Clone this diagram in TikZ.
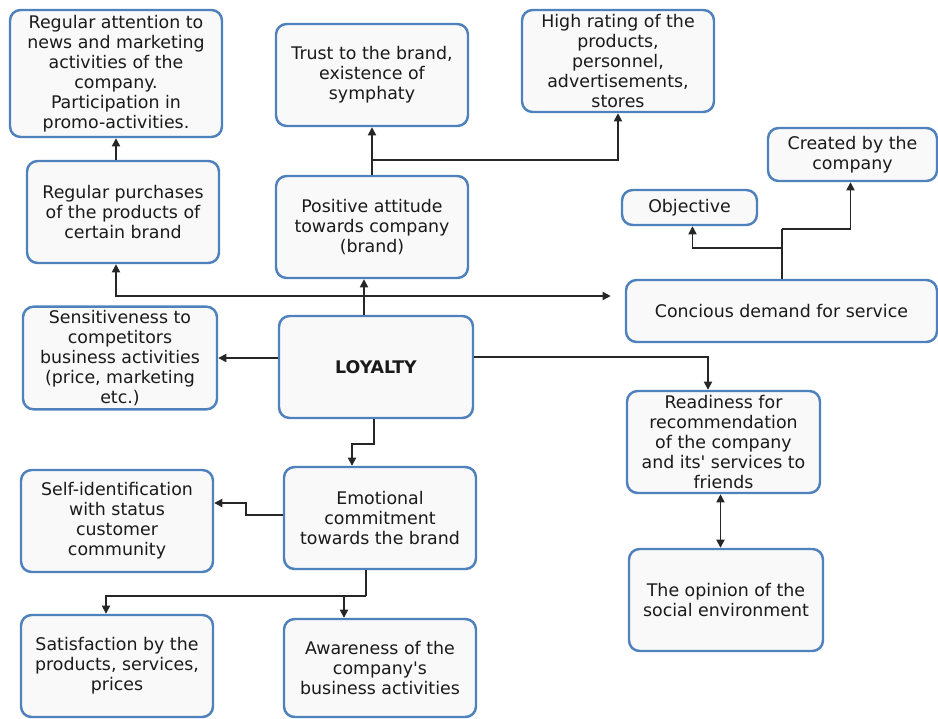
\documentclass[tikz,border=0pt]{standalone}
\usepackage{fontspec}
\setmainfont{DejaVu Sans}
\usetikzlibrary{arrows.meta,calc}

\begin{document}
\begin{tikzpicture}[x=0.02cm,y=-0.02cm,>={Triangle[length=4.6pt,width=4.6pt]},
  box/.style={draw=lo_blue,line width=1.4pt,fill=lo_fill,rounded corners=6pt,
              align=center,inner sep=2pt,text=lo_text,
              font=\fontsize{9.9}{11.4}\selectfont},
  wh/.style 2 args={minimum width=#1*0.02cm,minimum height=#2*0.02cm},
  link/.style={line width=0.9pt,color=lo_line}]
% ------------------------------------------------ loyalty chart colors
\definecolor{lo_blue}{RGB}{79,129,189}   %#4F81BD
\definecolor{lo_fill}{RGB}{249,249,249}  %#F9F9F9
\definecolor{lo_line}{RGB}{38,38,38}     %#262626
\definecolor{lo_text}{RGB}{26,26,26}     %#1A1A1A

\useasboundingbox (0,0) rectangle (938,718);

% ---------------------------------------------  Boxes
\node[box,wh={212}{127}] (attn)    at (116,73.5)  {Regular attention to\\news and marketing\\activities of the\\company.\\Participation in\\promo-activities.};
\node[box,wh={192}{102}] (trust)   at (372,75)    {Trust to the brand,\\existence of\\symphaty};
\node[box,wh={192}{102}] (rating)  at (618,61)    {High rating of the\\products,\\personnel,\\advertisements,\\stores};
\node[box,wh={192}{102}] (purch)   at (123,212)   {Regular purchases\\of the products of\\certain brand};
\node[box,wh={192}{102}] (posit)   at (372,227)   {Positive attitude\\towards company\\(brand)};
\node[box,wh={169}{53}]  (created) at (852.5,154.5) {Created by the\\company};
\node[box,wh={135}{35}]  (objct)   at (689.5,207.5) {Objective};
\node[box,wh={311}{62}]  (demand)  at (781.5,311) {Concious demand for service};
\node[box,wh={194}{102}] (sens)    at (120,358)   {Sensitiveness to\\competitors\\business activities\\(price, marketing\\etc.)};
\node[box,wh={194}{102}] (loyal)   at (376,367)   {\bfseries LOYALTY};
\node[box,wh={192}{102}] (selfid)  at (117,521)   {Self-identification\\with status\\customer\\community};
\node[box,wh={192}{102}] (emot)    at (380,518)   {Emotional\\commitment\\towards the brand};
\node[box,wh={192}{102}] (satis)   at (117,666)   {Satisfaction by the\\products, services,\\prices};
\node[box,wh={192}{98}]  (aware)   at (380,668)   {Awareness of the\\company\textquotesingle s\\business activities};
\node[box,wh={193}{102}] (ready)   at (723.5,442) {Readiness for\\recommendation\\of the company\\and its\textquotesingle{} services to\\friends};
\node[box,wh={194}{102}] (opinion) at (726,600)   {The opinion of the\\social environment};

% ---------------------------------------------  Branch points
\coordinate (hub)  at (364,296);
\coordinate (tb)   at (372,160);
\coordinate (dA)   at (782,248);
\coordinate (dB)   at (782,229);
\coordinate (rdy)  at (708,357);
\coordinate (eb)   at (366,596);

% ---------------------------------------------  Connectors
\draw[link,->] (attn.south |- purch.north) -- (attn.south);
\draw[link,->] (posit.north) -- (trust.south);
\draw[link,->] (tb) -| (rating.south);

\draw[link,->] (loyal.north -| hub) -- (posit.south -| hub);
\draw[link,<->,shorten >=8pt] (purch.south -| attn.south) |- (hub) -- (demand.west |- hub);

\draw[link] (demand.north -| dA) -- (dB);
\draw[link,->] (dA) -| ($(objct.south)+(3,0)$);
\draw[link,->] (dB) -| ($(created.south)+(-2,0)$);

\draw[link,->] (loyal.west |- sens.east) -- (sens.east);
\draw[link,->] (loyal.east |- rdy) -| (ready.north -| rdy);
\draw[link,->] ($(loyal.south)+(-2,0)$) -- ++(0,25) -| ($(emot.north)+(-28,0)$);

\draw[link,->] ($(emot.west)+(0,-3)$) -- ++(-37,0) |- ($(selfid.east)+(0,-18)$);
\draw[link] (emot.south -| eb) -- (eb);
\draw[link,->] (eb) -| ($(satis.north)+(-11,0)$);
\draw[link,->] (aware.north |- eb) ++(-36,0) -- ($(aware.north)+(-36,0)$);

\draw[link,<->] ($(ready.south)+(-3,0)$) -- ($(ready.south |- opinion.north)+(-3,0)$);

\end{tikzpicture}
\end{document}
